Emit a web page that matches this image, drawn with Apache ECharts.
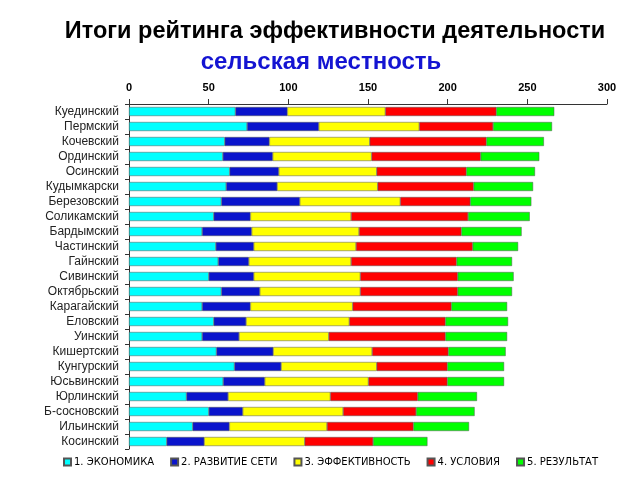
<!DOCTYPE html>
<html><head><meta charset="utf-8">
<script src="https://cdn.jsdelivr.net/npm/echarts@6/dist/echarts.min.js"></script>
<style>html,body{margin:0;padding:0;background:#fff}#c{width:640px;height:480px}</style>
</head><body><div id="c"></div>
<script>
const categories = ['Куединский','Пермский','Кочевский','Ординский','Осинский','Кудымкарски','Березовский','Соликамский','Бардымский','Частинский','Гайнский','Сивинский','Октябрьский','Карагайский','Еловский','Уинский','Кишертский','Кунгурский','Юсьвинский','Юрлинский','Б-сосновский','Ильинский','Косинский'];
const seriesNames = ['1. ЭКОНОМИКА','2. РАЗВИТИЕ СЕТИ','3. ЭФФЕКТИВНОСТЬ','4. УСЛОВИЯ','5. РЕЗУЛЬТАТ'];
const economics   = [66.8,74.1,60.1,58.9,63.2,61.0,58.0,53.2,45.9,54.5,56.0,50.1,58.0,45.9,53.2,45.9,54.9,66.2,59.1,36.1,50.1,40.0,23.7];
const network     = [32.6,45.0,28.0,31.3,30.8,32.0,49.2,23.0,31.1,23.8,19.2,28.2,24.1,30.3,20.3,23.2,35.6,29.3,26.1,26.1,21.3,23.0,23.5];
const efficiency  = [61.5,63.1,63.0,62.1,61.5,63.1,63.1,63.2,67.4,64.2,64.2,66.9,63.1,64.2,64.8,56.3,62.1,60.0,65.1,64.2,63.0,61.3,63.1];
const conditions  = [69.6,46.3,73.2,68.4,56.2,60.2,43.9,73.4,64.2,73.2,66.2,61.1,61.1,61.9,60.3,73.2,47.8,44.3,49.5,54.8,45.8,54.2,42.9];
const result      = [36.4,37.0,36.1,36.8,43.1,37.3,38.3,38.7,37.8,28.5,34.8,35.1,34.1,35.0,39.3,38.7,36.0,35.6,35.6,37.2,36.7,34.9,34.1];
const xTicks = [0,50,100,150,200,250,300];
const colors = ['#00ffff','#0a14cc','#ffff00','#ff0000','#00ff00'];
const values = [economics, network, efficiency, conditions, result];

const chart = echarts.init(document.getElementById('c'), null, {renderer:'canvas'});
chart.setOption({
  animation:false,
  backgroundColor:'#fff',
  title:[
    {text:'Итоги рейтинга эффективности деятельности', left:330, textAlign:'center', top:15,
     textStyle:{fontFamily:'Liberation Sans, Arial', fontSize:23.5, fontWeight:'bold', color:'#000'}},
    {text:'сельская местность', left:316, textAlign:'center', top:45,
     textStyle:{fontFamily:'Liberation Sans, Arial', fontSize:24, fontWeight:'bold', color:'#1414d2'}}
  ],
  legend:{
    data:seriesNames, left:58, top:452, itemWidth:7, itemHeight:7, itemGap:16,
    icon:'rect',
    textStyle:{fontFamily:'DejaVu Sans, Arial', fontSize:10, color:'#000', padding:[0,0,0,-2]}
  },
  grid:{left:129, right:33, top:104, bottom:31, containLabel:false},
  xAxis:{
    type:'value', position:'top', min:xTicks[0], max:xTicks[xTicks.length-1], interval:50,
    axisLine:{show:true, lineStyle:{color:'#333', width:1}},
    axisTick:{show:true, length:5, lineStyle:{color:'#333'}},
    axisLabel:{margin:11, fontFamily:'Liberation Sans, Arial', fontSize:11, fontWeight:'bold', color:'#000'},
    splitLine:{show:false}
  },
  yAxis:{
    type:'category', data:categories, inverse:true,
    axisLine:{show:true, lineStyle:{color:'#333', width:1}},
    axisTick:{show:true, length:4, lineStyle:{color:'#333'}},
    axisLabel:{interval:0, margin:10, fontFamily:'Liberation Sans, Arial', fontSize:12, color:'#222'}
  },
  series: seriesNames.map((n,i)=>({
    name:n, type:'bar', stack:'total', data:values[i], barWidth:9,
    itemStyle:{color:colors[i], borderColor:'#555', borderWidth:0.5}
  }))
});
</script></body></html>
